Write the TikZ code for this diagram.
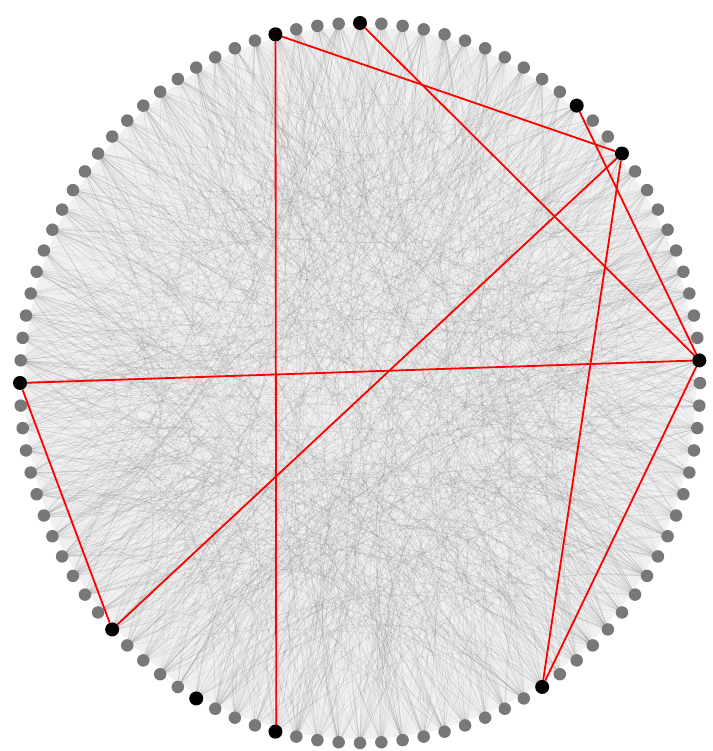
\documentclass[tikz,border=0pt]{standalone}
\usetikzlibrary{calc}
\definecolor{dotgray}{RGB}{120,120,120}
\pgfdeclarelayer{bg}
\pgfdeclarelayer{links}
\pgfsetlayers{bg,links,main}
\begin{document}
\begin{tikzpicture}[x=1pt,y=1pt,
  dot/.style={circle,fill=dotgray,inner sep=0pt,minimum size=12.5pt},
  hub/.style={circle,fill=black,inner sep=0pt,minimum size=14pt},
  link/.style={draw=red,line width=1.8pt},
  bgedge/.style={black!55,line width=0.4pt,opacity=0.18}]
\useasboundingbox (0,0) rectangle (712,751);
% ring of nodes
\foreach \i in {0,...,99}{
  \pgfmathtruncatemacro\ishub{(\i==1)||(\i==11)||(\i==14)||(\i==25)||(\i==29)||(\i==50)||(\i==62)||(\i==67)||(\i==71)||(\i==84)}
  \ifnum\ishub=1
    \node[hub] (n\i) at ({360+340*cos(3.6*\i)},{368+360*sin(3.6*\i)}) {};
  \else
    \node[dot] (n\i) at ({360+340*cos(3.6*\i)},{368+360*sin(3.6*\i)}) {};
  \fi
}
\begin{pgfonlayer}{bg}
  \fill[black!6] (360,368) ellipse [x radius=336, y radius=356];
  \pgfmathsetseed{7}
  \foreach \k in {1,...,1100}{
    \pgfmathrandominteger{\a}{0}{99}
    \pgfmathrandominteger{\b}{0}{99}
    \pgfmathsetmacro{\u}{360+rand*190}
    \pgfmathsetmacro{\v}{368+rand*200}
    \draw[bgedge] (n\a.center) .. controls ($(n\a.center)!0.55!(\u,\v)$) and ($(n\b.center)!0.55!(\u,\v)$) .. (n\b.center);
  }
\end{pgfonlayer}
\begin{pgfonlayer}{links}
  \draw[link] (n29) -- (n11);
  \draw[link] (n25) -- (n1);
  \draw[link] (n14) -- (n1);
  \draw[link] (n11) -- (n62);
  \draw[link] (n11) -- (n84);
  \draw[link] (n1) -- (n84);
  \draw[link] (n1) -- (n50);
  \draw[link] (n50) -- (n62);
  \draw[link] (n29.center) -- ([xshift=0.8pt]n71.center);
\end{pgfonlayer}
\end{tikzpicture}
\end{document}
